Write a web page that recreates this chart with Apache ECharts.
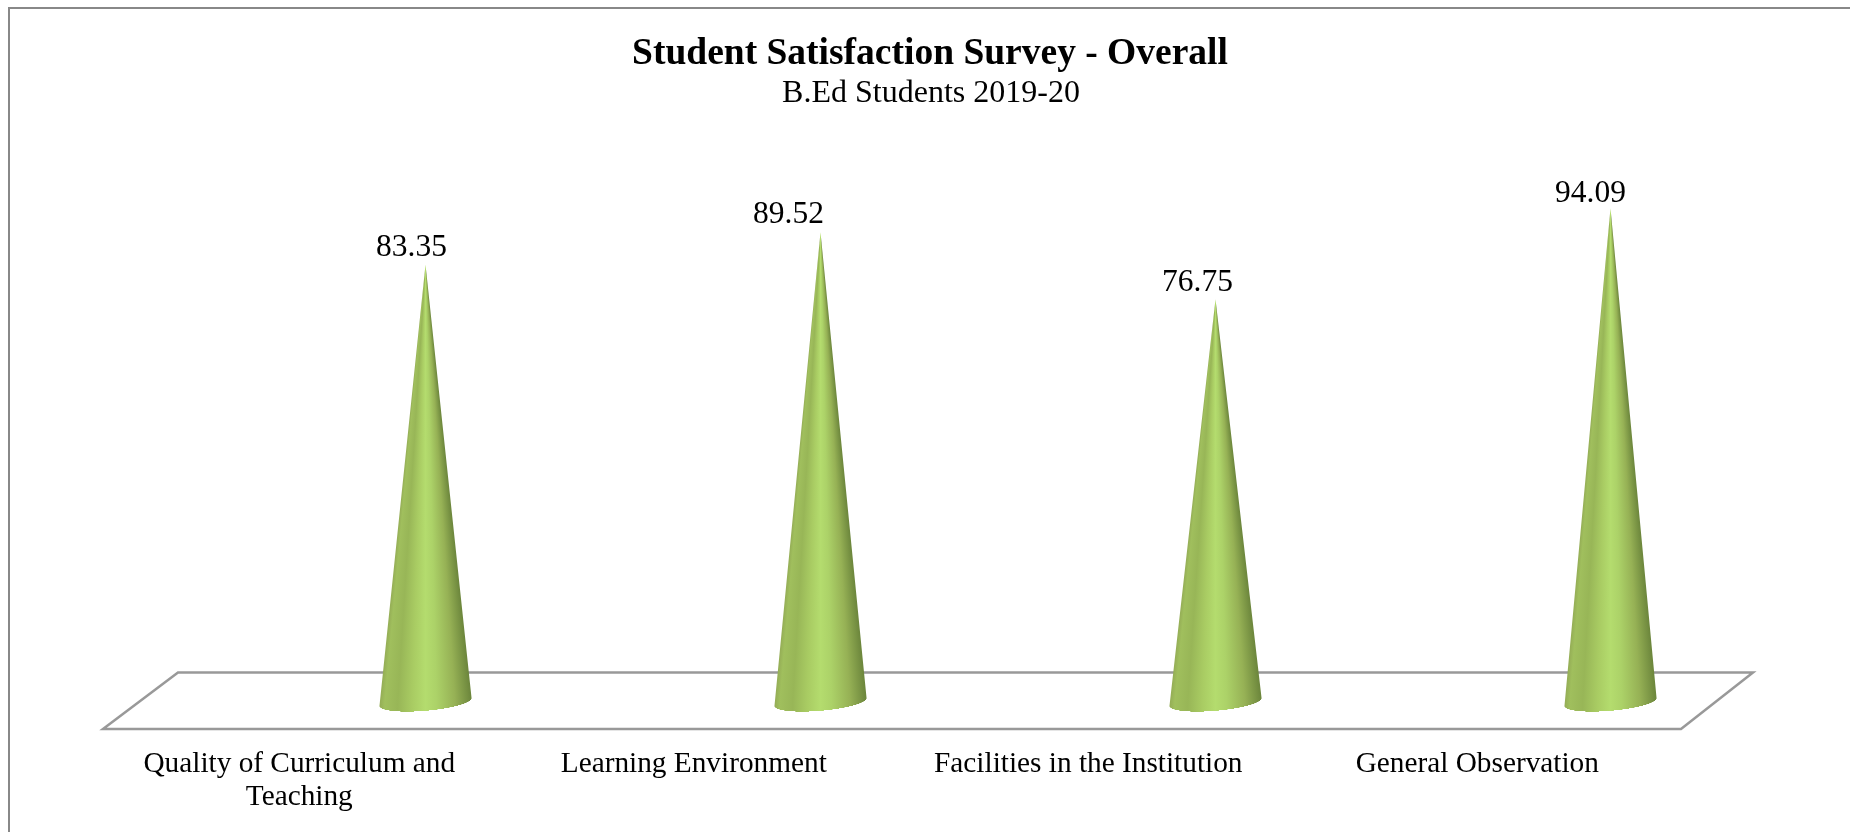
<!DOCTYPE html>
<html>
<head>
<meta charset="utf-8">
<title>Student Satisfaction Survey</title>
<style>
  html, body { margin: 0; padding: 0; background: #fff; overflow: hidden; }
  #main { width: 1850px; height: 832px; }
</style>
<script src="https://cdn.jsdelivr.net/npm/echarts@6/dist/echarts.min.js"></script>
</head>
<body>
<div id="main"></div>
<script>
var categories = ['Quality of Curriculum and\nTeaching', 'Learning Environment', 'Facilities in the Institution', 'General Observation']
var scores = [83.35, 89.52, 76.75, 94.09]

var serif = '"Liberation Serif", "Times New Roman", serif'

// the value labels were dragged by hand in the original, they do not sit over the tips
var labelShiftX = [-14, -32, -18, -20]
var labelShiftY = [-1, -1, 0, 1.5]

// shading across the cone, left edge to right edge
var shadeStops = [
  { offset: 0, color: '#93ab55' },
  { offset: 0.06, color: '#a0bf5d' },
  { offset: 0.2, color: '#98b657' },
  { offset: 0.36, color: '#a9cc63' },
  { offset: 0.5, color: '#b4dc6e' },
  { offset: 0.62, color: '#acd268' },
  { offset: 0.82, color: '#96b155' },
  { offset: 1, color: '#6c863c' }
]

// left and right ends of a polygon on one pixel row
function scanRow(points, y) {
  var xs = []
  for (var i = 0; i < points.length; i++) {
    var a = points[i], b = points[(i + 1) % points.length]
    if ((a[1] <= y && b[1] > y) || (b[1] <= y && a[1] > y)) {
      xs.push(a[0] + (y - a[1]) / (b[1] - a[1]) * (b[0] - a[0]))
    }
  }
  return xs.length < 2 ? null : [Math.min.apply(null, xs), Math.max.apply(null, xs)]
}

function renderCone(params, api) {
  var top = api.coord([api.value(0), api.value(1)])
  var base = api.coord([api.value(0), 0])
  var rx = api.size([1, 0])[0] * 0.117
  var ry = rx * 0.19
  var tilt = -5 * Math.PI / 180
  var steps = 48
  var outline = [top]
  for (var i = 0; i <= steps; i++) {
    // front of the base ellipse, left to right
    var a = Math.PI - Math.PI * i / steps
    var ex = rx * Math.cos(a)
    var ey = ry * Math.sin(a)
    outline.push([
      base[0] + ex * Math.cos(tilt) - ey * Math.sin(tilt),
      base[1] + ex * Math.sin(tilt) + ey * Math.cos(tilt)
    ])
  }
  // one pixel rows, so the shading narrows towards the tip without seams
  var children = []
  var yStart = Math.floor(top[1])
  var yEnd = Math.ceil(base[1] + ry + 2)
  for (var y = yStart; y < yEnd; y++) {
    var span = scanRow(outline, y + 0.5)
    if (!span) continue
    var half = Math.min(rx, rx * (y + 0.5 - top[1]) / (base[1] - top[1]))
    children.push({
      type: 'rect',
      shape: { x: span[0], y: y, width: span[1] - span[0], height: 1 },
      style: {
        fill: new echarts.graphic.LinearGradient(top[0] - half, 0, top[0] + half, 0, shadeStops, true)
      }
    })
  }
  return { type: 'group', children: children }
}

var myChart = echarts.init(document.getElementById('main'))
myChart.setOption({
  backgroundColor: '#fff',
  animation: false,
  title: [{
    text: 'Student Satisfaction Survey - Overall',
    left: 925, top: 30, textAlign: 'center',
    textStyle: { fontFamily: serif, fontSize: 37.5, fontWeight: 'bold', color: '#000' }
  }, {
    text: 'B.Ed Students 2019-20',
    left: 926, top: 73, textAlign: 'center',
    textStyle: { fontFamily: serif, fontSize: 32, fontWeight: 'normal', color: '#000' }
  }],
  grid: [
    // front edge of the floor, carries the category labels
    { left: 102, right: 170, top: 120, height: 609 },
    // back plane, where the cones stand
    { left: 228, width: 1580, top: 120, height: 582 }
  ],
  xAxis: [{
    type: 'category', gridIndex: 0,
    data: categories.map(function (c, i) {
      return i === 3 ? { value: c, textStyle: { padding: [0, 11, 0, 0] } } : c
    }),
    axisLine: { show: false }, axisTick: { show: false },
    axisLabel: { interval: 0, margin: 19, lineHeight: 33, fontFamily: serif, fontSize: 29.3, color: '#000' }
  }, {
    type: 'category', gridIndex: 1, data: categories,
    axisLine: { show: false }, axisTick: { show: false }, axisLabel: { show: false }
  }],
  yAxis: [{
    type: 'value', gridIndex: 0, min: 0, max: 100, show: false
  }, {
    type: 'value', gridIndex: 1, min: 0, max: 110.9, show: false
  }],
  graphic: [{
    type: 'rect', z: 0, silent: true,
    shape: { x: 9, y: 8, width: 1900, height: 900 },
    style: { fill: 'none', stroke: '#888', lineWidth: 2 }
  }, {
    type: 'polygon', z: 0, silent: true,
    shape: { points: [[103, 729], [178, 672.5], [1753, 672.5], [1681, 729]] },
    style: { fill: '#fff', stroke: '#999', lineWidth: 2.5, lineJoin: 'miter' }
  }],
  series: [{
    type: 'custom',
    xAxisIndex: 1,
    yAxisIndex: 1,
    renderItem: renderCone,
    encode: { x: 0, y: 1 },
    data: scores.map(function (v, i) { return [i, v] }),
    silent: true,
    z: 3
  }, {
    type: 'scatter',
    xAxisIndex: 1,
    yAxisIndex: 1,
    symbolSize: 0,
    silent: true,
    data: scores.map(function (v, i) {
      return {
        value: [i, v],
        label: { offset: [labelShiftX[i], labelShiftY[i]], color: '#000' }
      }
    }),
    label: {
      show: true, position: 'top', distance: 0,
      formatter: function (p) { return p.value[1].toFixed(2) },
      fontFamily: serif, fontSize: 31.5, color: '#000', opacity: 1
    },
    itemStyle: { opacity: 1 },
    z: 4
  }]
})
window.addEventListener('resize', function () {
  myChart.resize()
})
</script>
</body>
</html>
